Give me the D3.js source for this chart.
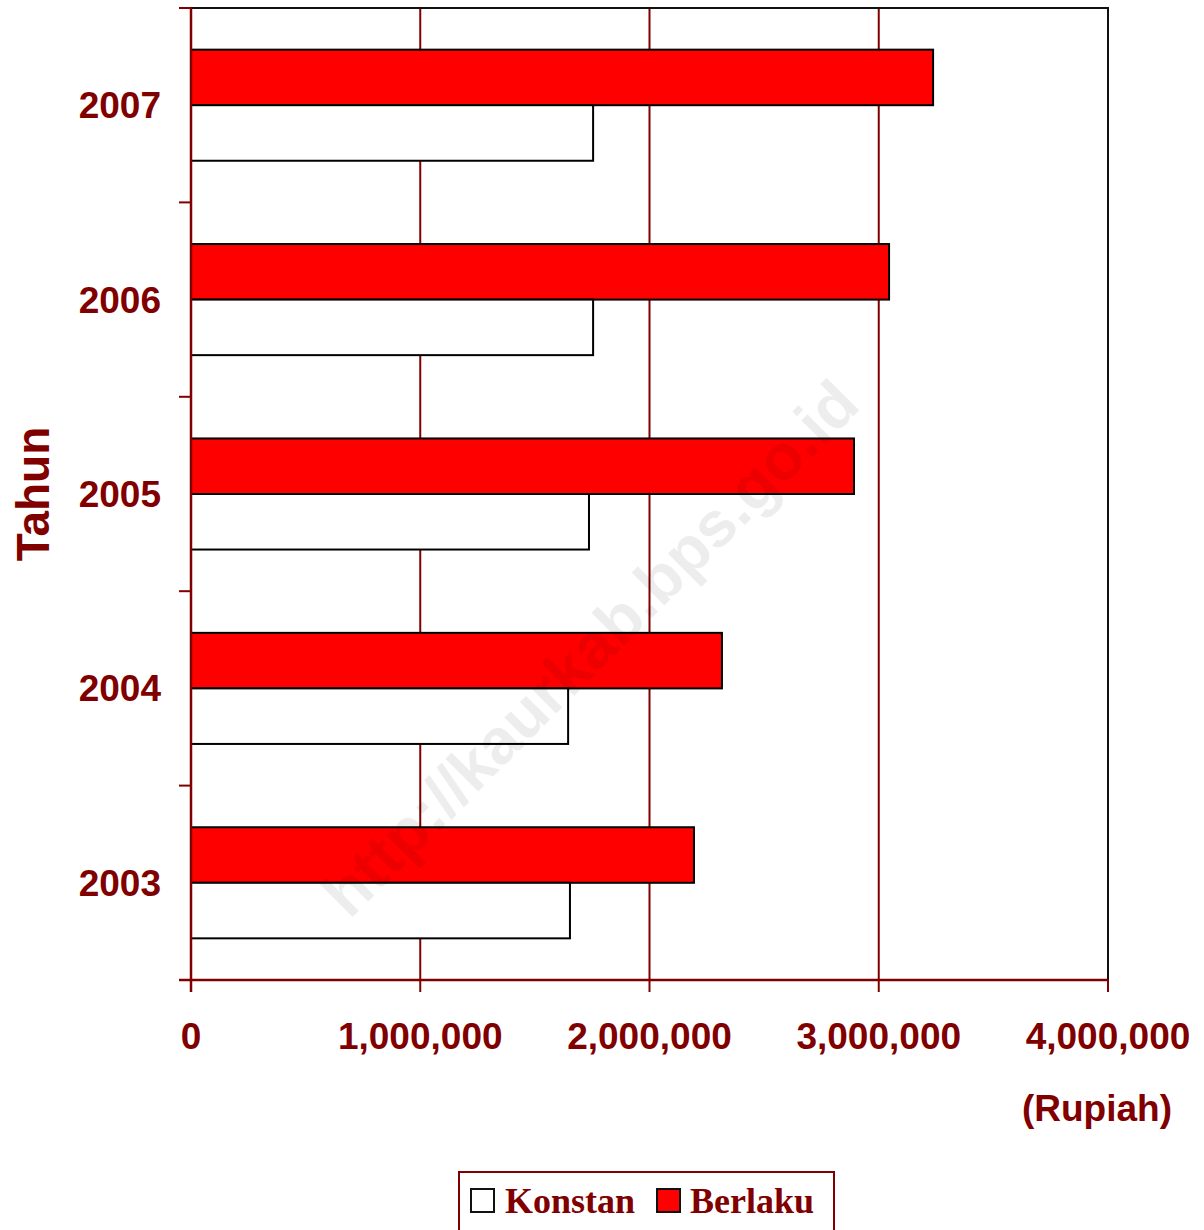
<!DOCTYPE html>
<html>
<head>
<meta charset="utf-8">
<script src="https://cdn.jsdelivr.net/npm/d3@7"></script>
<style>
  body { margin: 0; background: #fff; }
  svg text { font-family: Arial, "Liberation Sans", sans-serif; font-weight: bold; }
</style>
</head>
<body>
<svg id="chart" width="1204" height="1230"></svg>
<script>
// data
const years = ["2007", "2006", "2005", "2004", "2003"];
const berlaku = [3237000, 3045000, 2892000, 2316000, 2194000];
const konstan = [1754000, 1754000, 1736000, 1645000, 1653000];
const xTicks = [0, 1000000, 2000000, 3000000, 4000000];
const seriesNames = ["Berlaku", "Konstan"];

const darkred = "#800000";
const svg = d3.select("#chart");

const plotLeft = 191, plotRight = 1108, plotTop = 8, plotBottom = 980;

const x = d3.scaleLinear().domain([0, 4000000]).range([plotLeft, plotRight]);
const y0 = d3.scaleBand().domain(years).range([plotTop, plotBottom]).padding(0);
const y1 = d3.scaleBand().domain(seriesNames).range([0, y0.bandwidth()])
  .paddingInner(0).paddingOuter(0.75);

// gridlines
svg.append("g")
  .selectAll("line")
  .data(xTicks.slice(1, 4))
  .join("line")
  .attr("x1", d => x(d)).attr("x2", d => x(d))
  .attr("y1", plotTop).attr("y2", plotBottom)
  .attr("stroke", darkred)
  .attr("stroke-width", 2);

// top and right border
svg.append("path")
  .attr("d", `M${plotLeft},${plotTop}H${plotRight}V${plotBottom}`)
  .attr("fill", "none")
  .attr("stroke", "#111")
  .attr("stroke-width", 2);

// bars
const rows = years.map((yr, i) => ({ year: yr, Berlaku: berlaku[i], Konstan: konstan[i] }));
const groups = svg.append("g")
  .selectAll("g")
  .data(rows)
  .join("g")
  .attr("transform", d => `translate(0,${y0(d.year)})`);

groups.selectAll("rect")
  .data(d => seriesNames.map(k => ({ key: k, value: d[k] })))
  .join("rect")
  .attr("x", x(0))
  .attr("y", d => y1(d.key))
  .attr("width", d => x(d.value) - x(0))
  .attr("height", y1.bandwidth())
  .attr("fill", d => d.key === "Berlaku" ? "#ff0000" : "#ffffff")
  .attr("stroke", "#000")
  .attr("stroke-width", 2);

// y axis
const yAxisG = svg.append("g");
yAxisG.append("line")
  .attr("x1", plotLeft).attr("x2", plotLeft)
  .attr("y1", plotTop).attr("y2", plotBottom + 12)
  .attr("stroke", darkred).attr("stroke-width", 2.5);
const bounds = years.map(d => y0(d)).concat([plotBottom]);
yAxisG.selectAll(".ytick")
  .data(bounds)
  .join("line")
  .attr("class", "ytick")
  .attr("x1", plotLeft - 12).attr("x2", plotLeft)
  .attr("y1", d => d).attr("y2", d => d)
  .attr("stroke", darkred).attr("stroke-width", 2);
yAxisG.selectAll(".ylab")
  .data(years)
  .join("text")
  .attr("class", "ylab")
  .attr("x", 161)
  .attr("y", d => y0(d) + y0.bandwidth() / 2 + 13)
  .attr("text-anchor", "end")
  .attr("fill", darkred)
  .style("font-size", "37px")
  .text(d => d);

// x axis
const xAxisG = svg.append("g");
xAxisG.append("line")
  .attr("x1", plotLeft - 12).attr("x2", plotRight)
  .attr("y1", plotBottom).attr("y2", plotBottom)
  .attr("stroke", darkred).attr("stroke-width", 2.5);
xAxisG.selectAll(".xtick")
  .data(xTicks)
  .join("line")
  .attr("class", "xtick")
  .attr("x1", d => x(d)).attr("x2", d => x(d))
  .attr("y1", plotBottom).attr("y2", plotBottom + 12)
  .attr("stroke", darkred).attr("stroke-width", 2);
xAxisG.selectAll(".xlab")
  .data(xTicks)
  .join("text")
  .attr("class", "xlab")
  .attr("x", d => x(d))
  .attr("y", 1049)
  .attr("text-anchor", "middle")
  .attr("fill", darkred)
  .style("font-size", "37px")
  .text(d => d3.format(",")(d));

// axis titles
svg.append("text")
  .attr("transform", "translate(49,494) rotate(-90)")
  .attr("text-anchor", "middle")
  .attr("fill", darkred)
  .style("font-size", "46px")
  .text("Tahun");
svg.append("text")
  .attr("x", 1172)
  .attr("y", 1121)
  .attr("text-anchor", "end")
  .attr("fill", darkred)
  .style("font-size", "37px")
  .text("(Rupiah)");

// watermark
svg.append("text")
  .attr("transform", "translate(590,648) rotate(-45)")
  .attr("text-anchor", "middle")
  .attr("dy", "0.35em")
  .attr("fill", "#000")
  .attr("fill-opacity", 0.07)
  .style("font-size", "64px")
  .text("http://kaurkab.bps.go.id");

// legend
const legend = svg.append("g");
legend.append("rect")
  .attr("x", 459).attr("y", 1172)
  .attr("width", 375).attr("height", 60)
  .attr("fill", "#fff")
  .attr("stroke", darkred).attr("stroke-width", 2);
const legItems = [
  { key: "Konstan", fill: "#ffffff", sx: 471, tx: 505 },
  { key: "Berlaku", fill: "#ff0000", sx: 657, tx: 690 }
];
legend.selectAll(".sw")
  .data(legItems)
  .join("rect")
  .attr("class", "sw")
  .attr("x", d => d.sx).attr("y", 1189)
  .attr("width", 23).attr("height", 23)
  .attr("fill", d => d.fill)
  .attr("stroke", "#111").attr("stroke-width", 2);
legend.selectAll(".lt")
  .data(legItems)
  .join("text")
  .attr("class", "lt")
  .attr("x", d => d.tx).attr("y", 1213)
  .attr("fill", darkred)
  .style("font-family", "'Liberation Serif', 'Times New Roman', serif")
  .style("font-size", "36px")
  .text(d => d.key);
</script>
</body>
</html>
